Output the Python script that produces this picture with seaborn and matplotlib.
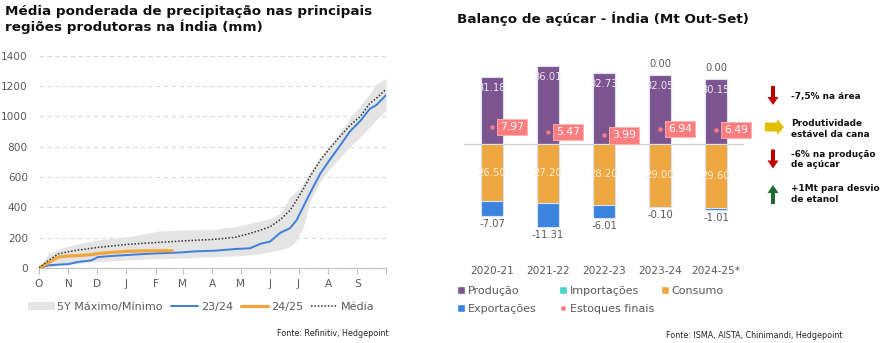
import numpy as np
import pandas as pd
import matplotlib
matplotlib.use("Agg")
import matplotlib.pyplot as plt
import matplotlib.transforms as mtransforms
from matplotlib.patches import Patch, FancyArrow
from matplotlib.lines import Line2D
import seaborn as sns

# ---------------- Left chart data (mm, cumulative, day of season Oct-Sep) ----------------
month_labels = ["O", "N", "D", "J", "F", "M", "A", "M", "J", "J", "A", "S"]
month_start_day = [0, 31, 61, 92, 123, 151, 182, 212, 243, 273, 304, 335, 365]
days = [0, 10, 20, 31, 41, 55, 62, 78, 94, 110, 126, 140, 150, 165, 185, 206,
        222, 233, 243, 254, 264, 271, 278, 285, 296, 306, 317, 327, 338, 348, 355, 365]
rain_2324 = [0, 18, 22, 26, 40, 50, 72, 80, 86, 92, 97, 100, 103, 110, 114, 125,
             130, 160, 174, 233, 262, 316, 404, 492, 624, 715, 810, 900, 970, 1050, 1075, 1140]
rain_2425 = [0, 35, 72, 79, 82, 88, 95, 104, 110, 113, 114, 114] + [np.nan] * 20
rain_mean = [0, 50, 92, 108, 118, 130, 136, 146, 156, 163, 169, 174, 178, 183, 189, 202,
             228, 250, 272, 320, 380, 448, 520, 602, 712, 790, 870, 940, 1000, 1086, 1120, 1178]
band_max = [0, 95, 122, 145, 160, 178, 185, 195, 206, 225, 244, 248, 250, 252, 255, 272,
            294, 312, 325, 360, 470, 505, 560, 635, 730, 810, 900, 990, 1070, 1150, 1215, 1250]
band_min = [0, 5, 15, 22, 30, 40, 42, 48, 53, 58, 62, 64, 65, 70, 75, 79,
            86, 95, 108, 120, 141, 185, 270, 440, 570, 655, 730, 800, 865, 930, 980, 1040]

# ---------------- Right chart data (Mt) ----------------
seasons = ["2020-21", "2021-22", "2022-23", "2023-24", "2024-25*"]
producao = [31.18, 36.01, 32.73, 32.05, 30.15]
importacoes = [0.00, 0.00, 0.00, 0.00, 0.00]
import_labels = ["", "", "", "0.00", "0.00"]
consumo = [26.50, 27.20, 28.20, 29.00, 29.60]
exportacoes = [7.07, 11.31, 6.01, 0.10, 1.01]
estoques = [7.97, 5.47, 3.99, 6.94, 6.49]

notes = ["-7,5% na área", "Produtividade\nestável da cana",
         "-6% na produção\nde açúcar", "+1Mt para desvio\nde etanol"]
note_dirs = ["down", "right", "down", "up"]

# ---------------- Style ----------------
sns.set_theme(style="white")
plt.rcParams["font.family"] = ["DejaVu Sans"]
GRAY = "#595959"
C_BLUE = "#3E7FDA"
C_ORANGE = "#F2A53A"
C_BAND = "#E4E4E4"
C_PROD = "#7C5490"
C_IMP = "#45D6C6"
C_CONS = "#EDA842"
C_EXP = "#3A84DF"
C_STK = "#FF7C7F"

W, H = 886, 343
fig = plt.figure(figsize=(W / 100, H / 100), dpi=100)

# ================= Left panel =================
ax1 = fig.add_axes([39 / W, 1 - 268 / H, 347 / W, 212.3 / H])
ax1.fill_between(days, band_min, band_max, color=C_BAND, linewidth=0, zorder=1)
sns.lineplot(x=days, y=rain_2324, ax=ax1, color=C_BLUE, linewidth=1.4, zorder=3)
sns.lineplot(x=days, y=rain_2425, ax=ax1, color=C_ORANGE, linewidth=2.3, zorder=4)
sns.lineplot(x=days, y=rain_mean, ax=ax1, color="#333333", linewidth=1.1,
             linestyle=(0, (1, 1.2)), zorder=5)
ax1.set_xlim(0, 365)
ax1.set_ylim(0, 1400)
ax1.set_yticks(range(0, 1401, 200))
ax1.yaxis.grid(True, linestyle=(0, (4, 3)), color="#D9D9D9", linewidth=0.8)
ax1.set_axisbelow(True)
ax1.set_xticks(month_start_day)
ax1.set_xticklabels([])
ax1.tick_params(axis="x", which="major", length=4, color="#BFBFBF", width=0.8, bottom=True)
ax1.tick_params(axis="y", length=0, labelsize=7.6, labelcolor=GRAY, pad=8)
for d, lab in zip(month_start_day[:-1], month_labels):
    ax1.text(d, -0.075, lab, transform=ax1.get_xaxis_transform(), ha="center", va="center",
             fontsize=7.6, color=GRAY)
for s in ["top", "right", "left"]:
    ax1.spines[s].set_visible(False)
ax1.spines["bottom"].set_color("#BFBFBF")
ax1.spines["bottom"].set_linewidth(0.8)
ax1.set_xlabel("")
ax1.set_ylabel("")
ax1.grid(False, axis="x")

h_left = [Patch(facecolor=C_BAND, edgecolor="none"),
          Line2D([], [], color=C_BLUE, linewidth=1.4),
          Line2D([], [], color=C_ORANGE, linewidth=2.3),
          Line2D([], [], color="#333333", linewidth=1.1, linestyle=(0, (1, 1.2)))]
l_left = ["5Y Máximo/Mínimo", "23/24", "24/25", "Média"]
fig.legend(h_left, l_left, loc="center left", bbox_to_anchor=(28 / W, 1 - 307 / H),
           ncol=4, frameon=False, fontsize=8, labelcolor=GRAY, handlelength=2.4,
           handletextpad=0.25, columnspacing=0.75, borderaxespad=0, borderpad=0)

fig.text(5 / W, 1 - 19.5 / H, "Média ponderada de precipitação nas principais\nregiões produtoras na Índia (mm)",
         ha="left", va="center", fontsize=9.7, fontweight="bold", color="#111111", linespacing=1.05)
fig.text(389 / W, 1 - 334 / H, "Fonte: Refinitiv, Hedgepoint", ha="right", va="center",
         fontsize=5.8, color="#262626")

# ================= Right panel =================
ax2 = fig.add_axes([464 / W, 1 - 256.3 / H, 280 / W, 198.7 / H])
df = pd.DataFrame({"season": seasons, "producao": producao, "importacoes": importacoes,
                   "consumo": consumo, "exportacoes": exportacoes, "estoques": estoques})
df["neg_total"] = -(df["consumo"] + df["exportacoes"])
df["neg_cons"] = -df["consumo"]
df["pos_total"] = df["producao"] + df["importacoes"]

bar_kw = dict(width=0.4, saturation=1, edgecolor="#DCE2EC", linewidth=0.8, ax=ax2)
sns.barplot(data=df, x="season", y="pos_total", color=C_IMP, **bar_kw)
sns.barplot(data=df, x="season", y="producao", color=C_PROD, **bar_kw)
prod_bars = ax2.containers[-1]
sns.barplot(data=df, x="season", y="neg_total", color=C_EXP, **bar_kw)
sns.barplot(data=df, x="season", y="neg_cons", color=C_CONS, **bar_kw)
cons_bars = ax2.containers[-1]
sns.stripplot(data=df, x="season", y="estoques", color=C_STK, size=3.2, jitter=False,
              linewidth=0, ax=ax2, zorder=6)

ax2.axhline(0, color="#D0D0D0", linewidth=0.9, zorder=0.5)
ax2.set_ylim(-52, 40)
ax2.set_xlim(-0.5, len(seasons) - 0.5)
ax2.set_yticks([])
ax2.set_xlabel("")
ax2.set_ylabel("")
for s in ax2.spines.values():
    s.set_visible(False)
ax2.tick_params(axis="x", length=0, labelsize=7.6, labelcolor=GRAY, pad=7)

def off(dy):
    return mtransforms.offset_copy(ax2.transData, fig=fig, x=0, y=dy, units="dots")

for i in range(len(seasons)):
    t = ax2.text(i, producao[i], f"{producao[i]:.2f}", transform=off(-11), ha="center",
                 va="center", fontsize=7.2, color="#EEE8F2", zorder=7)
    t.set_clip_path(prod_bars.patches[i])
    t = ax2.text(i, -consumo[i] / 2, f"{consumo[i]:.2f}", transform=ax2.transData, ha="center",
                 va="center", fontsize=7.2, color="#FCEBD0", zorder=7)
    t.set_clip_path(cons_bars.patches[i])
    ax2.text(i, -(consumo[i] + exportacoes[i]), f"{-exportacoes[i]:.2f}", transform=off(-8),
             ha="center", va="center", fontsize=7.2, color=GRAY, zorder=7)
    if import_labels[i]:
        ax2.text(i, producao[i] + importacoes[i], import_labels[i], transform=off(10.5),
                 ha="center", va="center", fontsize=7.2, color=GRAY, zorder=7)
    ax2.annotate(f"{estoques[i]:.2f}", xy=(i, estoques[i]), xytext=(8, 0),
                 textcoords="offset pixels", ha="left", va="center", fontsize=7.8,
                 color="white", zorder=8,
                 bbox=dict(boxstyle="square,pad=0.3", fc=C_STK, ec="#FFB3B3", lw=0.6))

# legend: three fixed-width columns
leg_kw = dict(loc="center left", frameon=False, fontsize=8, labelcolor=GRAY, handlelength=0.75,
              handleheight=0.75, handletextpad=0.2, labelspacing=0.75,
              borderaxespad=0, borderpad=0)
fig.legend([Patch(facecolor=C_PROD), Patch(facecolor=C_EXP)], ["Produção", "Exportações"],
           bbox_to_anchor=(457 / W, 1 - 300 / H), **leg_kw)
fig.legend([Patch(facecolor=C_IMP),
            Line2D([], [], marker="o", color=C_STK, markersize=2.5, linestyle="none")],
           ["Importações", "Estoques finais"], bbox_to_anchor=(559 / W, 1 - 300 / H), **leg_kw)
fig.legend([Patch(facecolor=C_CONS)], ["Consumo"],
           bbox_to_anchor=(661 / W, 1 - 291 / H), **leg_kw)

fig.text(457 / W, 1 - 19 / H, "Balanço de açúcar - Índia (Mt Out-Set)", ha="left", va="center",
         fontsize=9.7, fontweight="bold", color="#111111")
fig.text(843 / W, 1 - 335 / H, "Fonte: ISMA, AISTA, Chinimandi, Hedgepoint", ha="right",
         va="center", fontsize=5.8, color="#262626")

# ---- Annotation arrows & notes ----
ov = fig.add_axes([0, 0, 1, 1], zorder=10)
ov.set_xlim(0, W)
ov.set_ylim(H, 0)
ov.axis("off")
ov.patch.set_alpha(0)
arrow_colors = {"down": "#C00000", "right": "#E3BE00", "up": "#1D6B30"}
note_y = [96, 129, 159.5, 194]
for y, txt, d in zip(note_y, notes, note_dirs):
    c = arrow_colors[d]
    if d == "down":
        ov.add_patch(FancyArrow(773, y - 10, 0, 19, width=4, head_width=11, head_length=8,
                                length_includes_head=True, color=c, lw=0))
    elif d == "up":
        ov.add_patch(FancyArrow(773, y + 10, 0, -19, width=4, head_width=11, head_length=8,
                                length_includes_head=True, color=c, lw=0))
    else:
        ov.add_patch(FancyArrow(765, y - 2, 19, 0, width=9, head_width=16, head_length=7,
                                length_includes_head=True, color=c, lw=0))
    fig.text(791 / W, 1 - y / H, txt, ha="left", va="center", fontsize=6.4, fontweight="bold",
             color="#111111", linespacing=1.2)

fig.savefig("out.png", dpi=100)
